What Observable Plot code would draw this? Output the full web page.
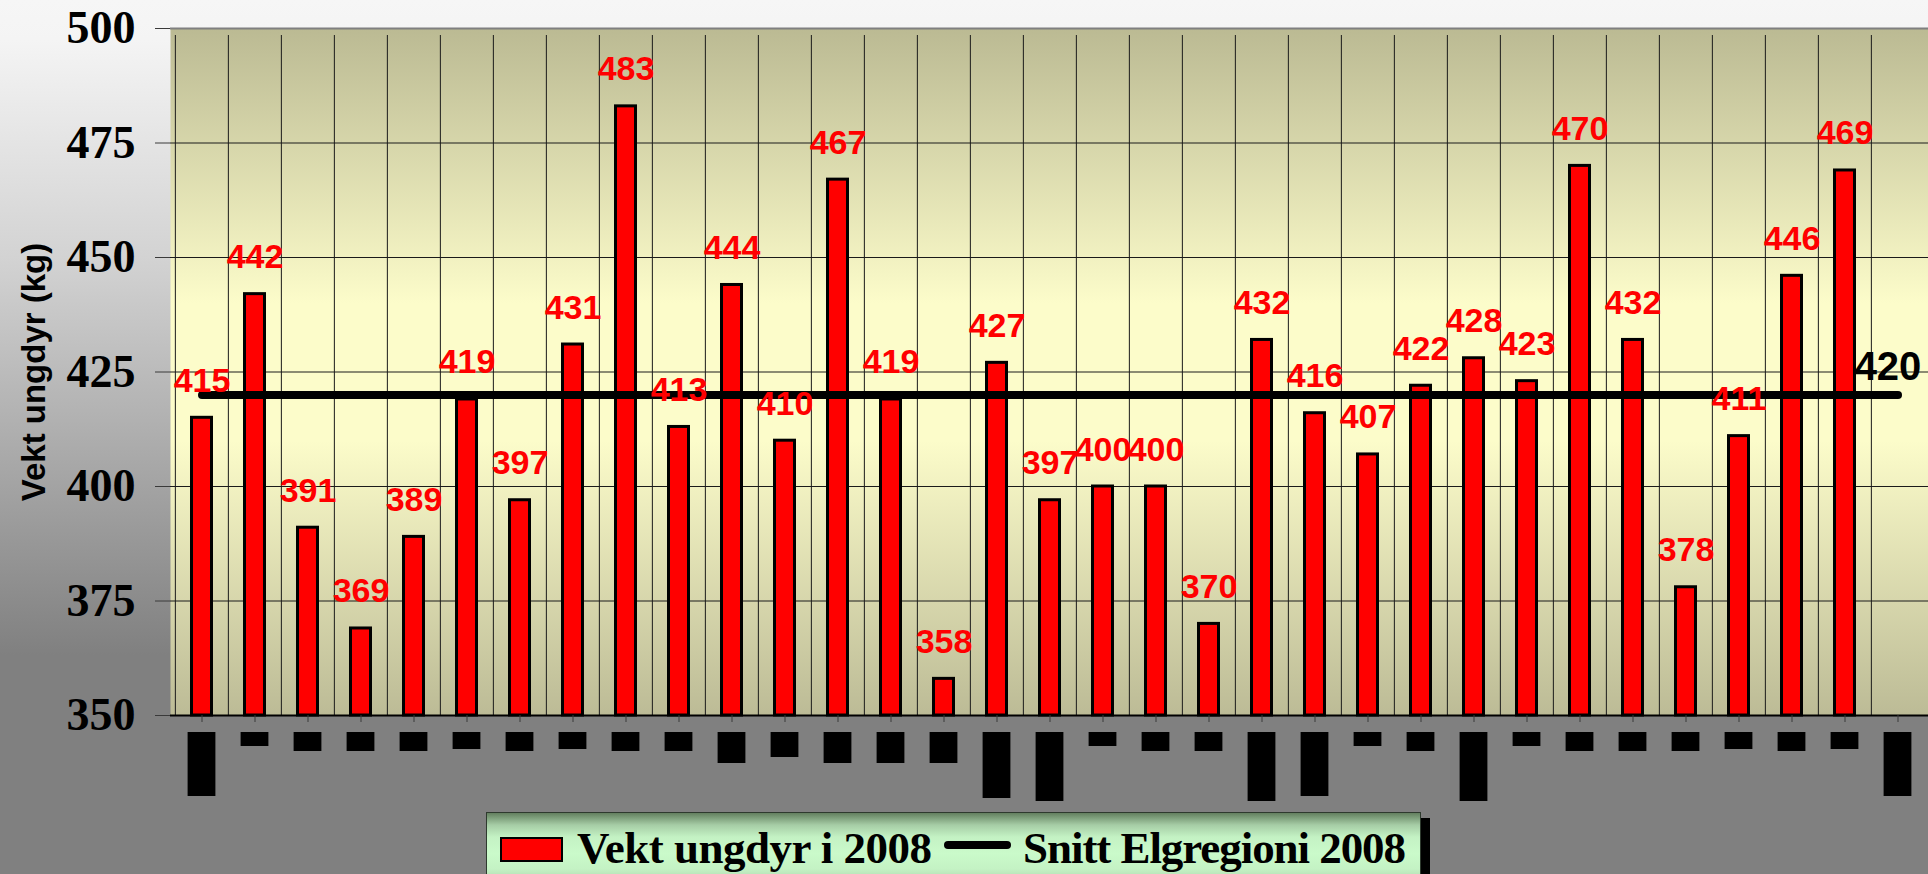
<!DOCTYPE html>
<html>
<head>
<meta charset="utf-8">
<script src="https://cdn.jsdelivr.net/npm/d3@7"></script>
<script src="https://cdn.jsdelivr.net/npm/@observablehq/plot@0.6"></script>
<style>
html, body { margin: 0; padding: 0; overflow: hidden; }
body {
  width: 1928px; height: 874px;
  background: linear-gradient(to bottom, #f6f6f6 0px, #f4f4f4 40px, #d2d2d2 262px, #808080 655px, #808080 874px);
}
#wrap { position: relative; width: 1928px; height: 874px; overflow: hidden; }
#main, #blocks { position: absolute; left: 0; }
#main { top: 0; }
#blocks { top: 722px; }
#legend {
  position: absolute; left: 486px; top: 812px; width: 935px; height: 72px;
  box-sizing: border-box; border: 1px solid #2e3a2e;
  box-shadow: 9px 6px 0 #000;
  background: linear-gradient(to bottom, #63805f 0px, #a6cda6 12px, #c4f2c4 24px, #cafaca 40px, #c4f2c4 56px, #a9cfa9 72px);
}
#legend svg { position: absolute; left: 0; top: 0; }
g[aria-label="y-axis tick label"] { font-family: "Liberation Serif", "Times New Roman", serif; font-weight: bold; font-size: 46px; }
</style>
</head>
<body>
<div id="wrap">
  <div id="main"></div>
  <div id="blocks"></div>
  <div id="legend"></div>
</div>
<script>
// ---- data ----
const categories = ["1","2","3","4","5","6","7","8","9","10","11","12","13","14","15","16","17",
                    "18","19","20","21","22","23","24","25","26","27","28","29","30","31","32","33"];
const weights = [415, 442, 391, 369, 389, 419, 397, 431, 483, 413, 444, 410, 467, 419, 358, 427, 397,
                 400, 400, 370, 432, 416, 407, 422, 428, 423, 470, 432, 378, 411, 446, 469, null];
const snitt = [420, 420, 420, 420, 420, 420, 420, 420, 420, 420, 420, 420, 420, 420, 420, 420, 420,
               420, 420, 420, 420, 420, 420, 420, 420, 420, 420, 420, 420, 420, 420, 420, 420];
// redacted (blacked-out) category labels: relative length of each black box
const hiddenLabelLength = [64, 14, 19, 19, 19, 17, 19, 17, 19, 19, 31, 25, 31, 31, 31, 66, 69,
                           14, 19, 19, 69, 64, 14, 19, 69, 14, 19, 19, 19, 17, 19, 17, 64];
const yTicks = [350, 375, 400, 425, 450, 475, 500];
const yTitle = "Vekt ungdyr (kg)";
const seriesNames = ["Vekt ungdyr i 2008", "Snitt Elgregioni 2008"];

const rows = categories.map((c, i) => ({cat: c, value: weights[i], snitt: snitt[i], len: hiddenLabelLength[i]}));

const W = 1928, ML = 170;
const halfBand = (W - ML) / categories.length / 2;
const sans = "'Liberation Sans', Arial, sans-serif";
const serif = "'Liberation Serif', 'Times New Roman', serif";

const main = Plot.plot({
  width: W, height: 740,
  marginTop: 28, marginBottom: 25, marginLeft: ML, marginRight: 0,
  style: {background: "transparent", overflow: "visible", color: "#000"},
  x: {type: "band", domain: categories, padding: 0},
  y: {domain: [350, 500]},
  marks: [
    Plot.frame({fill: "url(#plotBg)", stroke: null}),
    Plot.ruleY(yTicks, {stroke: "#1a1a1a", strokeWidth: 1}),
    Plot.ruleX(rows, {x: "cat", y1: 350, y2: 500, dx: -halfBand, insetBottom: -7, stroke: "#1a1a1a", strokeWidth: 1}),
    Plot.ruleY([350], {stroke: "#000", strokeWidth: 2}),
    Plot.ruleY([500], {stroke: "#7f7f7f", strokeWidth: 2}),
    Plot.barY(rows, {x: "cat", y1: 350, y2: "value", fill: "#ff0000", stroke: "#000", strokeWidth: 3, insetLeft: 16.5, insetRight: 16.5}),
    Plot.lineY(rows, {x: "cat", y: "snitt", stroke: "#000", strokeWidth: 8, strokeLinecap: "round"}),
    Plot.text(rows, {filter: d => d.value != null, x: "cat", y: "value", text: d => String(d.value),
      dy: -26, lineAnchor: "bottom", fill: "#ff0000", fontSize: 34, fontWeight: "bold", fontFamily: sans}),
    Plot.text(rows, Plot.selectLast({x: "cat", y: "snitt", text: d => String(d.snitt),
      dy: -15, dx: -10, lineAnchor: "bottom", fill: "#000", fontSize: 40, fontWeight: "bold", fontFamily: sans})),
    Plot.text([yTitle], {frameAnchor: "left", text: d => d, rotate: -90, dx: -126, textAnchor: "middle", lineAnchor: "bottom",
      fill: "#000", fontSize: 33, fontWeight: "bold", fontFamily: sans}),
    Plot.axisY({ticks: yTicks, tickSize: 15, tickPadding: 20, label: null, stroke: "#3a3a3a",
      fontSize: 46, fontWeight: "bold", fontFamily: serif}),
    Plot.axisX({tickSize: 7, tickFormat: () => "", label: null, stroke: "#3a3a3a"})
  ]
});
main.insertAdjacentHTML("afterbegin",
  `<defs><linearGradient id="plotBg" x1="0" y1="0" x2="0" y2="1">
     <stop offset="0" stop-color="#bbba93"/>
     <stop offset="0.4" stop-color="#fcfcca"/>
     <stop offset="0.6" stop-color="#fcfcca"/>
     <stop offset="1" stop-color="#bcbb96"/>
   </linearGradient></defs>`);
document.getElementById("main").appendChild(main);

const blocks = Plot.plot({
  width: W, height: 90,
  marginTop: 10, marginBottom: 10, marginLeft: ML, marginRight: 0,
  style: {background: "transparent", overflow: "visible"},
  x: {type: "band", domain: categories, padding: 0, axis: null},
  y: {domain: [0, 70], range: [10, 80], axis: null},
  marks: [
    Plot.barY(rows, {x: "cat", y1: 0, y2: "len", fill: "#000", insetLeft: 12.6, insetRight: 12.6})
  ]
});
document.getElementById("blocks").appendChild(blocks);

// legend
const lg = d3.select("#legend").append("svg").attr("width", 933).attr("height", 70);
lg.append("rect").attr("x", 14).attr("y", 25).attr("width", 61).attr("height", 23)
  .attr("fill", "#ff0000").attr("stroke", "#000").attr("stroke-width", 2);
lg.append("text").attr("x", 90).attr("y", 50).text(seriesNames[0])
  .style("font", `bold 45px ${serif}`).attr("fill", "#000").attr("textLength", 355);
lg.append("line").attr("x1", 461).attr("x2", 520).attr("y1", 32).attr("y2", 32)
  .attr("stroke", "#000").attr("stroke-width", 8).attr("stroke-linecap", "round");
lg.append("text").attr("x", 536).attr("y", 50).text(seriesNames[1])
  .style("font", `bold 45px ${serif}`).attr("fill", "#000").attr("textLength", 383);
</script>
</body>
</html>
